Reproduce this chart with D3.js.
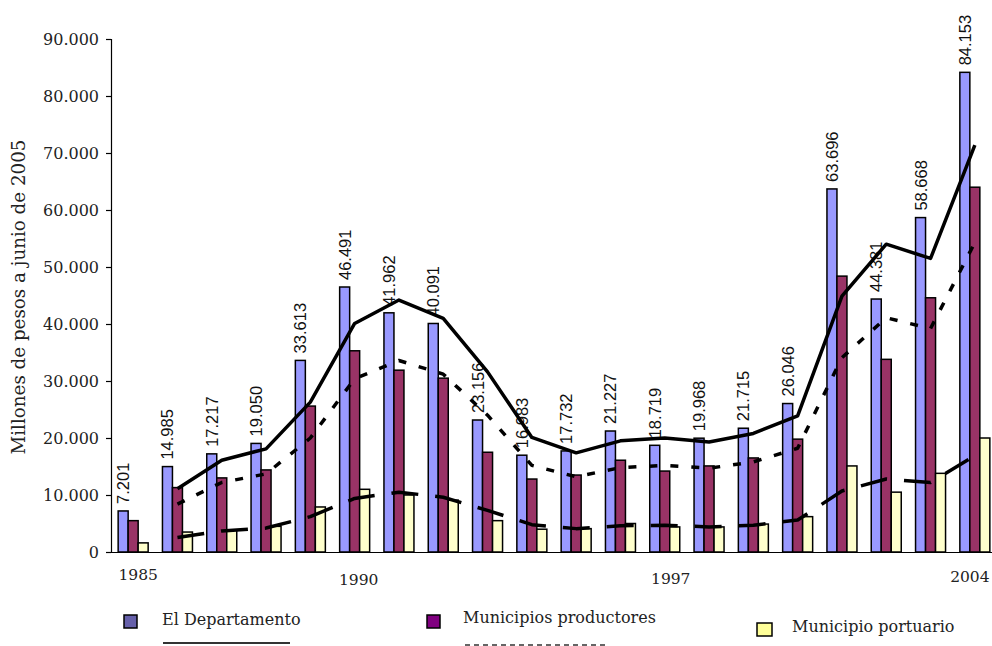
<!DOCTYPE html>
<html>
<head>
<meta charset="utf-8">
<script src="https://cdn.jsdelivr.net/npm/d3@7"></script>
<style>
  body { margin: 0; background: #fff; }
  svg { display: block; }
  .serif { font-family: "DejaVu Serif", serif; fill: #222; }
</style>
</head>
<body>
<svg id="chart" width="992" height="646"></svg>
<script>
// years on the x axis
const years = [1985, 1986, 1987, 1988, 1989, 1990, 1991, 1992, 1993, 1994,
               1995, 1996, 1997, 1998, 1999, 2000, 2001, 2002, 2003, 2004];
const yearTicks = [1985, 1990, 1997, 2004];
const yTicks = [0, 10000, 20000, 30000, 40000, 50000, 60000, 70000, 80000, 90000];

// bars (millones de pesos)
const departamento = [7201, 14985, 17217, 19050, 33613, 46491, 41962, 40091, 23156, 16983,
                      17732, 21227, 18719, 19968, 21715, 26046, 63696, 44381, 58668, 84153];
const productores = [5500, 11300, 13000, 14400, 25600, 35300, 31900, 30500, 17500, 12800,
                     13500, 16100, 14200, 15100, 16500, 19800, 48400, 33800, 44600, 64000];
const portuario = [1600, 3500, 3900, 4500, 7900, 11000, 10000, 9100, 5500, 4000,
                   4100, 5000, 4400, 4400, 4900, 6200, 15100, 10500, 13800, 20000];

// trend lines (no value for 1985)
const trendDepto = [null, 11100, 16100, 18100, 26300, 40100, 44200, 41000, 31600, 20100,
                    17400, 19500, 20000, 19300, 20800, 23900, 44900, 54000, 51500, 71400];
const trendProd = [null, 8400, 12200, 13700, 20000, 30400, 33600, 31200, 24000, 15200,
                   13200, 14800, 15200, 14700, 15800, 18200, 34100, 41100, 39200, 54300];
const trendPort = [null, 2550, 3700, 4200, 6200, 9400, 10500, 9600, 7300, 4800,
                   4100, 4600, 4700, 4400, 4700, 5600, 10700, 12800, 12200, 16900];

const seriesNames = ["El Departamento", "Municipios productores", "Municipio portuario"];

const svg = d3.select("#chart");
const fmt = d => d3.format(",")(d).replace(/,/g, ".");

const x = d3.scaleBand()
    .domain(years)
    .range([111, 997])
    .padding(0);

const y = d3.scaleLinear()
    .domain([0, 90000])
    .range([552, 39]);

const bw = x.bandwidth();
const x1 = d3.scaleBand()
    .domain(seriesNames)
    .range([bw / 2 - 15, bw / 2 + 15]);

const barColors = ["#9999ff", "#993366", "#ffffcc"];
const legendColors = ["#6660aa", "#800080", "#ffff99"];

const rows = years.map((yr, i) => ({
    year: yr,
    vals: [departamento[i], productores[i], portuario[i]]
}));

// bars
const groups = svg.append("g").selectAll("g")
    .data(rows)
    .enter().append("g")
    .attr("transform", d => `translate(${x(d.year)},0)`);

groups.selectAll("rect")
    .data(d => d.vals.map((v, k) => ({ k, v })))
    .enter().append("rect")
    .attr("x", d => x1(seriesNames[d.k]))
    .attr("y", d => y(d.v))
    .attr("width", x1.bandwidth())
    .attr("height", d => y(0) - y(d.v))
    .attr("fill", d => barColors[d.k])
    .attr("stroke", "#000")
    .attr("stroke-width", 1.5);

// value labels on El Departamento bars
svg.append("g").selectAll("text")
    .data(rows)
    .enter().append("text")
    .attr("transform", d => `translate(${x(d.year) + x1(seriesNames[0]) + x1.bandwidth() / 2},${y(d.vals[0]) - 7}) rotate(-90)`)
    .attr("dy", "0.36em")
    .style("font-family", "'Liberation Sans', Arial, sans-serif")
    .style("font-size", "16.5px")
    .attr("fill", "#111")
    .text(d => fmt(d.vals[0]));

// axes
const yAxis = svg.append("g")
    .attr("transform", "translate(111,0)")
    .call(d3.axisLeft(y).tickValues(yTicks).tickSize(5).tickPadding(7).tickFormat(fmt));
yAxis.select(".domain").attr("stroke", "#000").attr("stroke-width", 1.2);
yAxis.selectAll(".tick line").attr("stroke", "#000").attr("stroke-width", 1.2);
yAxis.selectAll("text")
    .attr("class", "serif")
    .style("font-size", "16px");

const xAxis = svg.append("g")
    .attr("transform", "translate(0,552)")
    .call(d3.axisBottom(x).tickValues(yearTicks).tickSize(0).tickPadding(0));
xAxis.select(".domain").attr("stroke", "#000").attr("stroke-width", 1.2);
// small offsets so the labels sit as in the original
const tickShift = { 1985: [5, 28], 1990: [4, 33], 1997: [6, 32], 2004: [-5, 30] };
xAxis.selectAll(".tick text")
    .attr("class", "serif")
    .style("font-size", "15.5px")
    .attr("dy", null)
    .attr("dx", d => tickShift[d][0])
    .attr("y", d => tickShift[d][1]);

svg.append("text")
    .attr("class", "serif")
    .attr("transform", "translate(25,297) rotate(-90)")
    .attr("text-anchor", "middle")
    .style("font-size", "18.3px")
    .text("Millones de pesos a junio de 2005");

// trend lines
const line = d3.line()
    .defined(d => d.v != null)
    .x(d => x(d.year) + bw / 2)
    .y(d => y(d.v));

const trends = [
    { vals: trendDepto, dash: null },
    { vals: trendProd, dash: "8,13" },
    { vals: trendPort, dash: "27,17" }
];

trends.forEach(t => {
    svg.append("path")
        .datum(years.map((yr, i) => ({ year: yr, v: t.vals[i] })))
        .attr("fill", "none")
        .attr("stroke", "#000")
        .attr("stroke-width", 3.5)
        .attr("stroke-linejoin", "round")
        .attr("stroke-dasharray", t.dash)
        .attr("d", line);
});

// legend
const legend = [
    { sx: 124, sy: 615, sw: 13, sh: 13, tx: 162, ty: 625 },
    { sx: 427, sy: 615, sw: 13, sh: 13, tx: 463, ty: 623 },
    { sx: 757, sy: 623, sw: 15, sh: 13, tx: 792, ty: 632 }
];
legend.forEach((l, k) => {
    svg.append("rect")
        .attr("x", l.sx).attr("y", l.sy)
        .attr("width", l.sw).attr("height", l.sh)
        .attr("fill", legendColors[k])
        .attr("stroke", "#000")
        .attr("stroke-width", 1.5);
    svg.append("text")
        .attr("class", "serif")
        .attr("x", l.tx).attr("y", l.ty)
        .style("font-size", "16px")
        .text(seriesNames[k]);
});

svg.append("line")
    .attr("x1", 163).attr("x2", 290).attr("y1", 643).attr("y2", 643)
    .attr("stroke", "#333").attr("stroke-width", 2);
svg.append("line")
    .attr("x1", 465).attr("x2", 606).attr("y1", 645).attr("y2", 645)
    .attr("stroke", "#333").attr("stroke-width", 1.5)
    .attr("stroke-dasharray", "5,4");
</script>
</body>
</html>
